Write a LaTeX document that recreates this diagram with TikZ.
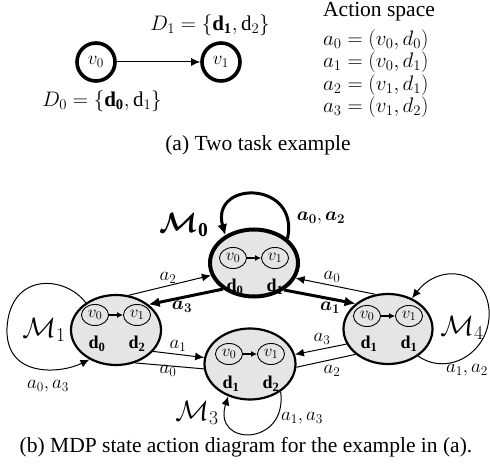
\RequirePackage{fix-cm}
\documentclass[tikz,border=0pt]{standalone}
\usepackage{amsmath}
\usepackage{bm}
\usepackage{fontspec}
\setmainfont{Liberation Serif}
\usetikzlibrary{arrows.meta,shapes.geometric}
\tikzset{
  capfont/.style={font=\fontsize{21.5}{25}\selectfont},
  mathtop/.style={font=\fontsize{21}{24}\selectfont, inner sep=0pt},
  topv/.style={circle, draw, line width=3.6pt, minimum size=38pt, inner sep=0pt, font=\fontsize{19}{22}\selectfont},
  stateA/.style={ellipse, draw, line width=2.2pt, fill=gray!20, inner sep=0pt},
  stateB/.style={stateA, line width=4pt},
  innerv/.style={ellipse, draw, line width=0.9pt, minimum width=27pt, minimum height=21pt, inner sep=0pt, font=\fontsize{17}{20}\selectfont},
  dlab/.style={inner sep=0pt, font=\fontsize{18}{21}\selectfont},
  elab/.style={inner sep=0pt, font=\fontsize{19}{22}\selectfont},
  mlab/.style={inner sep=0pt, font=\fontsize{28}{32}\selectfont},
  thinarrow/.style={line width=1pt, -{Latex[length=9pt,width=8pt]}},
  thinline/.style={line width=1pt},
  thickarrow/.style={line width=3pt, -{Latex[length=11pt,width=10pt]}},
  innerarrow/.style={line width=1.8pt, -{Latex[length=6pt,width=6pt]}},
}
\newcommand{\mdpstate}[5]{%
  \node[innerv] (#1a) at ([shift={(-21,#2)}]#1.center) {$v_0$};
  \node[innerv] (#1b) at ([shift={(21,#2)}]#1.center) {$v_1$};
  \draw[innerarrow] (#1a) -- (#1b);
  \node[dlab] (#1c) at ([shift={(-19,#3)}]#1.center) {$\mathbf{d}_{\mathbf{#4}}$};
  \node[dlab] (#1d) at ([shift={(21,#3)}]#1.center) {$\mathbf{d}_{\mathbf{#5}}$};
}
\begin{document}
\begin{tikzpicture}[x=1pt,y=-1pt]
\fill[white] (0,0) rectangle (490,465);
\useasboundingbox (0,0) rectangle (490,465);

% ---------- (a) ----------
\node[topv] (v0) at (96,62) {$v_0$};
\node[topv] (v1) at (221,62) {$v_1$};
\draw[thinarrow] (v0) -- (v1);
\node[mathtop] (D1) at (210,25) {$D_1=\{\mathbf{d}_{\mathbf{1}},\mathrm{d}_2\}$};
\node[mathtop] (D0) at (102,101) {$D_0=\{\mathbf{d}_{\mathbf{0}},\mathrm{d}_1\}$};
\node[capfont, anchor=base west, inner sep=0pt] (as) at (323,17) {Action space};
\node[mathtop, anchor=west] (A0) at (323,40) {$a_0=(v_0,d_0)$};
\node[mathtop, anchor=west] (A1) at (323,62.5) {$a_1=(v_0,d_1)$};
\node[mathtop, anchor=west] (A2) at (323,85) {$a_2=(v_1,d_1)$};
\node[mathtop, anchor=west] (A3) at (323,107.5) {$a_3=(v_1,d_2)$};
\node[capfont, inner sep=0pt] (capa) at (258,145) {(a) Two task example};

% ---------- (b) ----------
\node[stateB, minimum width=88pt, minimum height=67pt] (M0) at (254,263) {};
\node[stateA, minimum width=90pt, minimum height=70pt] (M1) at (116,330) {};
\node[stateA, minimum width=91pt, minimum height=71pt] (M3) at (250,364) {};
\node[stateA, minimum width=89pt, minimum height=70pt] (M4) at (388,329) {};

\mdpstate{M0}{-5}{24}{0}{1}
\mdpstate{M1}{-15}{14}{0}{2}
\mdpstate{M3}{-10}{20}{1}{2}
\mdpstate{M4}{-13}{15}{1}{1}

% edges between states
\draw[thinarrow] (M1.70) -- (M0.196);
\draw[thickarrow] (M0.220) -- (M1.38);
\draw[thinarrow] (M4.110) -- (M0.340);
\draw[thickarrow] (M0.318) -- (M4.142);
\draw[thinarrow] (M1.330) -- (M3.172);
\draw[thinline] (M3.186) -- (M1.300);
\draw[thinarrow] (M4.200) -- (M3.12);
\draw[thinline] (M3.356) -- (M4.218);

% self loops
\draw[thickarrow] (M0.36) .. controls (300,180) and (210,180) .. (M0.136);
\draw[thinarrow] (M1.138) .. controls (65,275) and (10,272) .. (7,328)
   .. controls (5,378) and (60,374) .. (M1.228);
\draw[thinarrow] (M4.318) .. controls (450,378) and (492,350) .. (489,310)
   .. controls (486,270) and (440,262) .. (M4.52);
\draw[thinarrow] (M3.318) .. controls (288,447) and (212,447) .. (M3.236);

% labels
\node[mlab] (L0) at (184,225) {$\bm{\mathcal{M}}_{\mathbf{0}}$};
\node[elab] (l02) at (321,218) {$\bm{a_0},\bm{a_2}$};
\node[mlab] (L1) at (44,330) {$\mathcal{M}_1$};
\node[elab] (l03) at (48,386) {$a_0,a_3$};
\node[mlab] (L4) at (462,328) {$\mathcal{M}_4$};
\node[elab] (l12) at (467,370) {$a_1,a_2$};
\node[mlab] (L3) at (197,413) {$\mathcal{M}_3$};
\node[elab] (l13) at (302,418) {$a_1,a_3$};
\node[elab] (e1) at (168,278) {$a_2$};
\node[elab] (e2) at (182,307) {$\bm{a_3}$};
\node[elab] (e3) at (332,277) {$a_0$};
\node[elab] (e4) at (330,308) {$\bm{a_1}$};
\node[elab] (e5) at (178,346) {$a_1$};
\node[elab] (e6) at (168,371) {$a_0$};
\node[elab] (e7) at (322,339) {$a_3$};
\node[elab] (e8) at (332,371) {$a_2$};
\node[capfont, inner sep=0pt] (capb) at (246,447) {(b) MDP state action diagram for the example in (a).};
\end{tikzpicture}
\end{document}
